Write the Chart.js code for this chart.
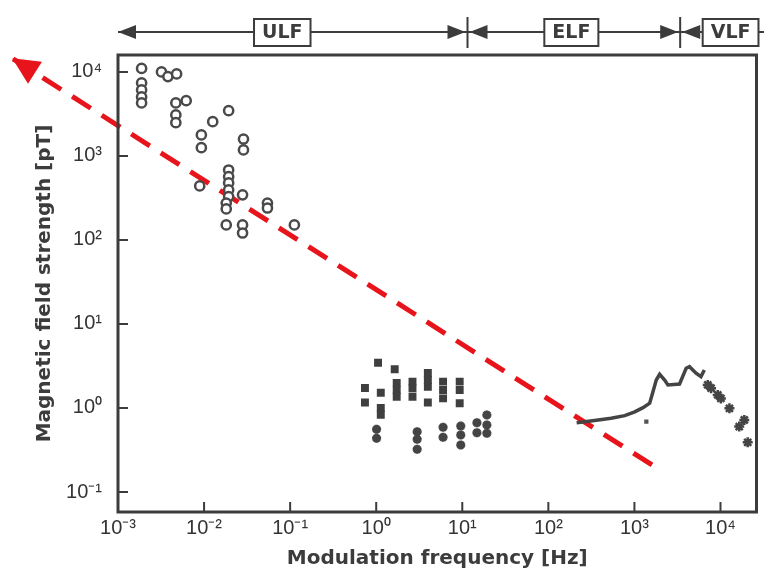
<!DOCTYPE html>
<html>
<head>
<meta charset="utf-8">
<script src="https://cdn.jsdelivr.net/npm/chart.js@4.4.1/dist/chart.umd.min.js"></script>
<style>
  body { margin: 0; background: #fff; }
  #wrap { width: 764px; height: 575px; }
</style>
</head>
<body>
<div id="wrap"><canvas id="Chart" width="764" height="575"></canvas></div>
<script>
// axis ticks
const xTickValues = [1e-3, 1e-2, 1e-1, 1, 10, 100, 1e3, 1e4];
const xTickLabels = ['10⁻³', '10⁻²', '10⁻¹', '10⁰', '10¹', '10²', '10³', '10⁴'];
const yTickValues = [1e-1, 1, 10, 100, 1e3, 1e4];
const yTickLabels = ['10⁻¹', '10⁰', '10¹', '10²', '10³', '10⁴'];

// ULF measurements (open circles)
const ulfFreq = [0.00188, 0.00188, 0.00188, 0.00188, 0.00188, 0.0032, 0.0038, 0.0048, 0.0047, 0.0062, 0.0047, 0.0047,
    0.0093, 0.0093, 0.0126, 0.0193, 0.0287, 0.0287, 0.0089, 0.0193, 0.0193, 0.0193, 0.0193, 0.0193, 0.0181, 0.0181,
    0.028, 0.0545, 0.0545, 0.0181, 0.028, 0.028, 0.112];
const ulfField = [11000, 7400, 6100, 5040, 4270, 10000, 8800, 9470, 4270, 4550, 3080, 2490,
    1780, 1255, 2560, 3460, 1590, 1180, 440, 680, 567, 477, 394, 328, 275, 234,
    344, 275, 240, 151, 151, 121, 151];

// 1-10 Hz measurements (filled squares)
const sqFreq = [1.05, 1.64, 0.74, 0.74, 1.13, 1.13, 1.13, 1.73, 1.73, 1.73, 2.64, 2.64, 2.64,
    3.98, 3.98, 3.98, 3.98, 5.98, 5.98, 5.98, 9.33, 9.33, 9.33];
const sqField = [3.46, 2.89, 1.73, 1.16, 1.52, 1.0, 0.83, 1.99, 1.64, 1.36, 2.06, 1.72, 1.36,
    2.61, 2.15, 1.79, 1.16, 2.06, 1.64, 1.30, 2.06, 1.64, 1.14];

// lower cluster (crosses)
const lowFreq = [1.01, 1.01, 2.99, 2.99, 2.99, 5.98, 5.98, 9.6, 9.6, 9.6, 14.8, 14.8, 19.3, 19.3, 19.3];
const lowField = [0.557, 0.436, 0.522, 0.424, 0.322, 0.589, 0.448, 0.61, 0.477, 0.363, 0.668, 0.508, 0.826, 0.628, 0.5];

// ELF/VLF spectrum curve
const vlfFreq = [213, 266, 379, 536, 772, 1008, 1259, 1504, 1642, 1794, 1964, 2244, 2449, 3345, 3990, 4360, 5200, 5930, 6490];
const vlfField = [0.668, 0.687, 0.72, 0.754, 0.81, 0.90, 1.01, 1.14, 1.56, 2.15, 2.52, 2.15, 1.88, 1.93, 2.97, 3.10, 2.59, 2.36, 2.83];
const vlfStarFreq = [7110, 7770, 9290, 10100, 12700, 16500, 18900, 20700];
const vlfStarField = [1.88, 1.72, 1.43, 1.30, 0.99, 0.60, 0.72, 0.39];
const dotFreq = [1375];
const dotField = [0.687];

// red dashed trend arrow (start, tip)
const trendFreq = [1600, 5.9e-5];
const trendField = [0.21, 1.45e4];

// frequency bands on top
const bandNames = ['ULF', 'ELF', 'VLF'];
const bandEdges = [1e-3, 11.5, 3400];
const bandLabelFreq = [0.081, 185, 13100];

const pts = (xs, ys) => xs.map((x, i) => ({ x: x, y: ys[i] }));

const FONT = '"Liberation Sans", Arial, sans-serif';
const BOLD = '"DejaVu Sans", sans-serif';
const INK = '#3c3c3c';
const RED = '#e8141b';

const frame = {
    id: 'frame',
    afterDatasetsDraw(chart) {
        const { ctx, chartArea: a, scales } = chart;
        ctx.save();
        ctx.strokeStyle = INK;
        ctx.lineWidth = 2;
        // inner ticks
        ctx.beginPath();
        xTickValues.forEach(v => {
            const px = scales.x.getPixelForValue(v);
            ctx.moveTo(px, a.bottom);
            ctx.lineTo(px, a.bottom - 10);
        });
        yTickValues.forEach(v => {
            const py = scales.y.getPixelForValue(v);
            ctx.moveTo(a.left, py);
            ctx.lineTo(a.left + 10, py);
        });
        ctx.stroke();
        ctx.lineWidth = 3;
        ctx.strokeRect(a.left, a.top, a.right - a.left, a.bottom - a.top);

        // arrowhead of the trend line
        const tm = chart.getDatasetMeta(6).data;
        const p0 = tm[0], p1 = tm[1];
        const len = Math.hypot(p1.x - p0.x, p1.y - p0.y);
        const ux = (p1.x - p0.x) / len, uy = (p1.y - p0.y) / len;
        const bx = p1.x - ux * 27, by = p1.y - uy * 27;
        ctx.fillStyle = RED;
        ctx.beginPath();
        ctx.moveTo(p1.x, p1.y);
        ctx.lineTo(bx - uy * 13, by + ux * 13);
        ctx.lineTo(bx + uy * 13, by - ux * 13);
        ctx.closePath();
        ctx.fill();

        // band arrows
        const yb = 32;
        const xs = bandEdges.map(v => scales.x.getPixelForValue(v));
        ctx.lineWidth = 2;
        ctx.beginPath();
        ctx.moveTo(xs[0], yb);
        ctx.lineTo(chart.width, yb);
        [xs[1], xs[2]].forEach(px => {
            ctx.moveTo(px, 17);
            ctx.lineTo(px, 48);
        });
        ctx.stroke();
        ctx.fillStyle = INK;
        const head = (tip, dir) => {
            ctx.beginPath();
            ctx.moveTo(tip, yb);
            ctx.lineTo(tip - dir * 18, yb - 7);
            ctx.lineTo(tip - dir * 18, yb + 7);
            ctx.closePath();
            ctx.fill();
        };
        head(xs[0], -1);
        head(xs[1] - 2, 1);
        head(xs[1] + 2, -1);
        head(xs[2] - 2, 1);
        head(xs[2] + 2, -1);
        ctx.font = 'bold 19px ' + BOLD;
        ctx.textAlign = 'center';
        ctx.textBaseline = 'middle';
        bandNames.forEach((name, i) => {
            const cx = scales.x.getPixelForValue(bandLabelFreq[i]);
            const w = ctx.measureText(name).width + 16;
            ctx.fillStyle = '#fff';
            ctx.fillRect(cx - w / 2, yb - 13, w, 27);
            ctx.strokeRect(cx - w / 2, yb - 13, w, 27);
            ctx.fillStyle = INK;
            ctx.fillText(name, cx, yb + 1);
        });
        ctx.restore();
    }
};

const ctx = document.getElementById('Chart').getContext('2d');
const myChart = new Chart(ctx, {
    type: 'scatter',
    data: {
        datasets: [{
            data: pts(ulfFreq, ulfField),
            pointStyle: 'circle',
            pointRadius: 4.6,
            borderWidth: 2.5,
            borderColor: '#4a4a4a',
            backgroundColor: '#fff'
        }, {
            data: pts(sqFreq, sqField),
            pointStyle: 'rect',
            pointRadius: 5.6,
            borderWidth: 0,
            backgroundColor: '#3f3f3f'
        }, {
            data: pts(lowFreq, lowField),
            pointStyle: 'star',
            pointRadius: 4.5,
            borderWidth: 3,
            borderColor: '#444',
            backgroundColor: '#444'
        }, {
            data: pts(vlfFreq, vlfField),
            showLine: true,
            pointRadius: 0,
            borderWidth: 3.5,
            borderColor: '#444'
        }, {
            data: pts(vlfStarFreq, vlfStarField),
            pointStyle: 'star',
            pointRadius: 5,
            borderWidth: 2.5,
            borderColor: '#444'
        }, {
            data: pts(dotFreq, dotField),
            pointStyle: 'rect',
            pointRadius: 3,
            borderWidth: 0,
            backgroundColor: '#555'
        }, {
            data: pts(trendFreq, trendField),
            showLine: true,
            clip: false,
            borderColor: RED,
            borderWidth: 5,
            borderDash: [22, 13],
            pointRadius: 0
        }]
    },
    options: {
        responsive: false,
        animation: false,
        layout: { padding: { top: 55, right: 5, left: 0, bottom: 0 } },
        plugins: { legend: { display: false }, tooltip: { enabled: false } },
        scales: {
            x: {
                type: 'logarithmic',
                min: 1e-3,
                max: 2.62e4,
                grid: { display: false, drawTicks: false },
                border: { display: false },
                afterBuildTicks: s => { s.ticks = xTickValues.map(v => ({ value: v })); },
                afterFit: s => { s.height = 63; s.paddingLeft = 0; s.paddingRight = 0; },
                ticks: {
                    autoSkip: false,
                    maxRotation: 0,
                    padding: 4,
                    color: '#333',
                    font: { family: FONT, size: 20 },
                    callback: v => xTickLabels[xTickValues.indexOf(v)]
                },
                title: {
                    display: true,
                    text: 'Modulation frequency [Hz]',
                    color: INK,
                    font: { family: BOLD, size: 20, weight: 'bold' },
                    padding: { bottom: 4 }
                }
            },
            y: {
                type: 'logarithmic',
                min: 0.0578,
                max: 15900,
                grid: { display: false, drawTicks: false },
                border: { display: false },
                afterBuildTicks: s => { s.ticks = yTickValues.map(v => ({ value: v })); },
                afterFit: s => { s.width = 118; },
                ticks: {
                    autoSkip: false,
                    padding: 16,
                    color: '#333',
                    font: { family: FONT, size: 20 },
                    callback: v => yTickLabels[yTickValues.indexOf(v)]
                },
                title: {
                    display: true,
                    text: 'Magnetic field strength [pT]',
                    color: INK,
                    font: { family: BOLD, size: 20, weight: 'bold' },
                    padding: { top: 33 }
                }
            }
        }
    },
    plugins: [frame]
});
</script>
</body>
</html>
